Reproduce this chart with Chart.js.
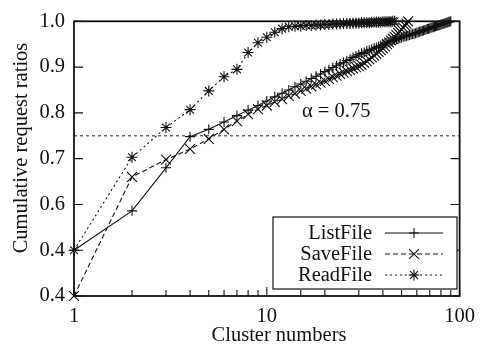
<!DOCTYPE html>
<html>
<head>
<meta charset="utf-8">
<script src="https://cdn.jsdelivr.net/npm/chart.js@4/dist/chart.umd.min.js"></script>
<style>
  html, body { margin: 0; padding: 0; background: #fff; }
  #wrap { width: 483px; height: 346px; }
</style>
</head>
<body>
<div id="wrap"><canvas id="cdf" width="483" height="346"></canvas></div>
<script>
// cumulative request ratio per cluster count (x = 1, 2, 3, ...)
const listFile = [
  0.500, 0.586, 0.680, 0.748, 0.764, 0.780, 0.794, 0.806, 0.816, 0.826,
  0.835, 0.843, 0.850, 0.857, 0.863, 0.869, 0.875, 0.880, 0.885, 0.890,
  0.894, 0.899, 0.903, 0.907, 0.910, 0.914, 0.917, 0.921, 0.924, 0.927,
  0.930, 0.932, 0.935, 0.937, 0.939, 0.941, 0.943, 0.945, 0.947, 0.949,
  0.951, 0.953, 0.955, 0.956, 0.958, 0.959, 0.961, 0.962, 0.963, 0.964,
  0.966, 0.967, 0.968, 0.969, 0.970, 0.971, 0.972, 0.973, 0.974, 0.975,
  0.976, 0.977, 0.978, 0.979, 0.980, 0.981, 0.982, 0.983, 0.984, 0.985,
  0.986, 0.987, 0.987, 0.988, 0.989, 0.990, 0.991, 0.991, 0.992, 0.993,
  0.994, 0.994, 0.995, 0.996, 0.997, 0.997, 0.998, 0.999, 0.999, 1.000
];
const saveFile = [
  0.400, 0.660, 0.698, 0.721, 0.743, 0.764, 0.782, 0.797, 0.808, 0.816,
  0.824, 0.830, 0.837, 0.842, 0.848, 0.853, 0.858, 0.862, 0.866, 0.870,
  0.874, 0.878, 0.881, 0.885, 0.888, 0.891, 0.894, 0.897, 0.900, 0.902,
  0.905, 0.909, 0.913, 0.917, 0.921, 0.925, 0.929, 0.933, 0.937, 0.941,
  0.945, 0.950, 0.954, 0.958, 0.962, 0.966, 0.970, 0.974, 0.978, 0.982,
  0.986, 0.991, 0.995, 1.000
];
const readFile = [
  0.500, 0.703, 0.768, 0.807, 0.848, 0.879, 0.895, 0.932, 0.953, 0.965,
  0.976, 0.984, 0.988, 0.989, 0.990, 0.991, 0.991, 0.992, 0.992, 0.993,
  0.993, 0.994, 0.994, 0.994, 0.995, 0.995, 0.995, 0.996, 0.996, 0.996,
  0.997, 0.997, 0.997, 0.997, 0.998, 0.998, 0.998, 0.998, 0.998, 0.999,
  0.999, 0.999, 0.999, 0.999, 1.000, 1.000
];
const seriesNames = ["ListFile", "SaveFile", "ReadFile"];
const xTickLabels = ["1", "10", "100"];
const yTickLabels = ["0.4", "0.4", "0.6", "0.7", "0.8", "0.9", "1.0"];
const alpha = 0.75;

const FONT = "'Liberation Serif', 'DejaVu Serif', serif";
const INK = "#111";

const toPoints = (arr) => arr.map((v, i) => ({ x: i + 1, y: v }));

const styles = [
  { dash: [], point: "cross", radius: 5 },
  { dash: [5, 3], point: "crossRot", radius: 7 },
  { dash: [2, 3], point: "star", radius: 5.5 },
];

const datasets = [listFile, saveFile, readFile].map((arr, i) => ({
  label: seriesNames[i],
  data: toPoints(arr),
  borderColor: INK,
  borderWidth: 1.1,
  borderDash: styles[i].dash,
  pointStyle: styles[i].point,
  pointRadius: styles[i].radius,
  pointBorderColor: INK,
  pointBorderWidth: 1.1,
  pointBackgroundColor: "transparent",
  tension: 0,
  clip: false,
}));

function drawMarker(ctx, style, r, x, y) {
  ctx.beginPath();
  if (style === "cross" || style === "star") {
    ctx.moveTo(x - r, y); ctx.lineTo(x + r, y);
    ctx.moveTo(x, y - r); ctx.lineTo(x, y + r);
  }
  if (style === "crossRot" || style === "star") {
    const d = r * Math.SQRT1_2;
    ctx.moveTo(x - d, y - d); ctx.lineTo(x + d, y + d);
    ctx.moveTo(x - d, y + d); ctx.lineTo(x + d, y - d);
  }
  ctx.stroke();
}

const framePlugin = {
  id: "frame",
  beforeDatasetsDraw(chart) {
    const { ctx, chartArea: a, scales } = chart;
    const xs = scales.x, ys = scales.y;
    ctx.save();
    // threshold line
    const ya = ys.getPixelForValue(alpha);
    ctx.setLineDash([3, 3]);
    ctx.lineWidth = 1.3;
    ctx.strokeStyle = "#555";
    ctx.beginPath();
    ctx.moveTo(a.left, ya); ctx.lineTo(a.right, ya);
    ctx.stroke();
    ctx.setLineDash([]);
    ctx.strokeStyle = INK;
    // inward ticks
    ctx.lineWidth = 1.1;
    ctx.beginPath();
    ys.ticks.forEach((t) => {
      const y = ys.getPixelForValue(t.value);
      ctx.moveTo(a.left, y); ctx.lineTo(a.left + 9, y);
      ctx.moveTo(a.right, y); ctx.lineTo(a.right - 9, y);
    });
    xs.ticks.forEach((t) => {
      const x = xs.getPixelForValue(t.value);
      const lg = Math.log10(t.value);
      const len = Math.abs(lg - Math.round(lg)) < 1e-9 ? 9 : 6;
      ctx.moveTo(x, a.bottom); ctx.lineTo(x, a.bottom - len);
    });
    ctx.stroke();
    // box
    ctx.lineWidth = 1.8;
    ctx.strokeRect(a.left, a.top, a.right - a.left, a.bottom - a.top);
    ctx.restore();
  },
  afterDatasetsDraw(chart) {
    const { ctx } = chart;
    ctx.save();
    ctx.fillStyle = INK;
    ctx.font = "20.5px " + FONT;
    // alpha annotation
    ctx.textAlign = "left";
    ctx.textBaseline = "middle";
    ctx.fillText("\u03b1 = " + alpha.toFixed(2), 302, 112);
    // axis titles
    ctx.textAlign = "center";
    ctx.fillText("Cluster numbers", 279, 336);
    ctx.save();
    ctx.translate(22, 148);
    ctx.rotate(-Math.PI / 2);
    ctx.fillText("Cumulative request ratios", 0, 0);
    ctx.restore();
    // legend box
    const box = { left: 273, top: 217, right: 457, bottom: 289 };
    ctx.fillStyle = "#fff";
    ctx.fillRect(box.left, box.top, box.right - box.left, box.bottom - box.top);
    ctx.strokeStyle = INK;
    ctx.lineWidth = 1.2;
    ctx.strokeRect(box.left, box.top, box.right - box.left, box.bottom - box.top);
    ctx.fillStyle = INK;
    ctx.textAlign = "right";
    chart.data.datasets.forEach((ds, i) => {
      const y = 233 + i * 21;
      ctx.fillText(ds.label, 372, y + 1);
      ctx.lineWidth = 1.1;
      ctx.setLineDash(ds.borderDash);
      ctx.beginPath();
      ctx.moveTo(385, y); ctx.lineTo(443, y);
      ctx.stroke();
      ctx.setLineDash([]);
      drawMarker(ctx, ds.pointStyle, ds.pointRadius, 414, y);
    });
    ctx.restore();
  },
};

new Chart(document.getElementById("cdf"), {
  type: "line",
  data: { datasets },
  plugins: [framePlugin],
  options: {
    responsive: false,
    animation: false,
    layout: { padding: { left: 0, right: 19, top: 17, bottom: 0 } },
    plugins: { legend: { display: false }, tooltip: { enabled: false } },
    scales: {
      x: {
        type: "logarithmic",
        min: 1,
        max: 100,
        border: { display: false },
        grid: { display: false, drawTicks: false },
        afterFit: (scale) => { scale.height = 50; },
        ticks: {
          autoSkip: false,
          maxRotation: 0,
          padding: 8,
          color: INK,
          font: { family: FONT, size: 20.5 },
          callback: (v) => (xTickLabels.includes(String(v)) ? String(v) : ""),
        },
      },
      y: {
        type: "linear",
        min: 0.4,
        max: 1.0,
        border: { display: false },
        grid: { display: false, drawTicks: false },
        afterFit: (scale) => { scale.width = 74; },
        ticks: {
          stepSize: 0.1,
          padding: 9,
          color: INK,
          font: { family: FONT, size: 20.5 },
          callback: (v, i) => yTickLabels[i],
        },
      },
    },
  },
});
</script>
</body>
</html>
